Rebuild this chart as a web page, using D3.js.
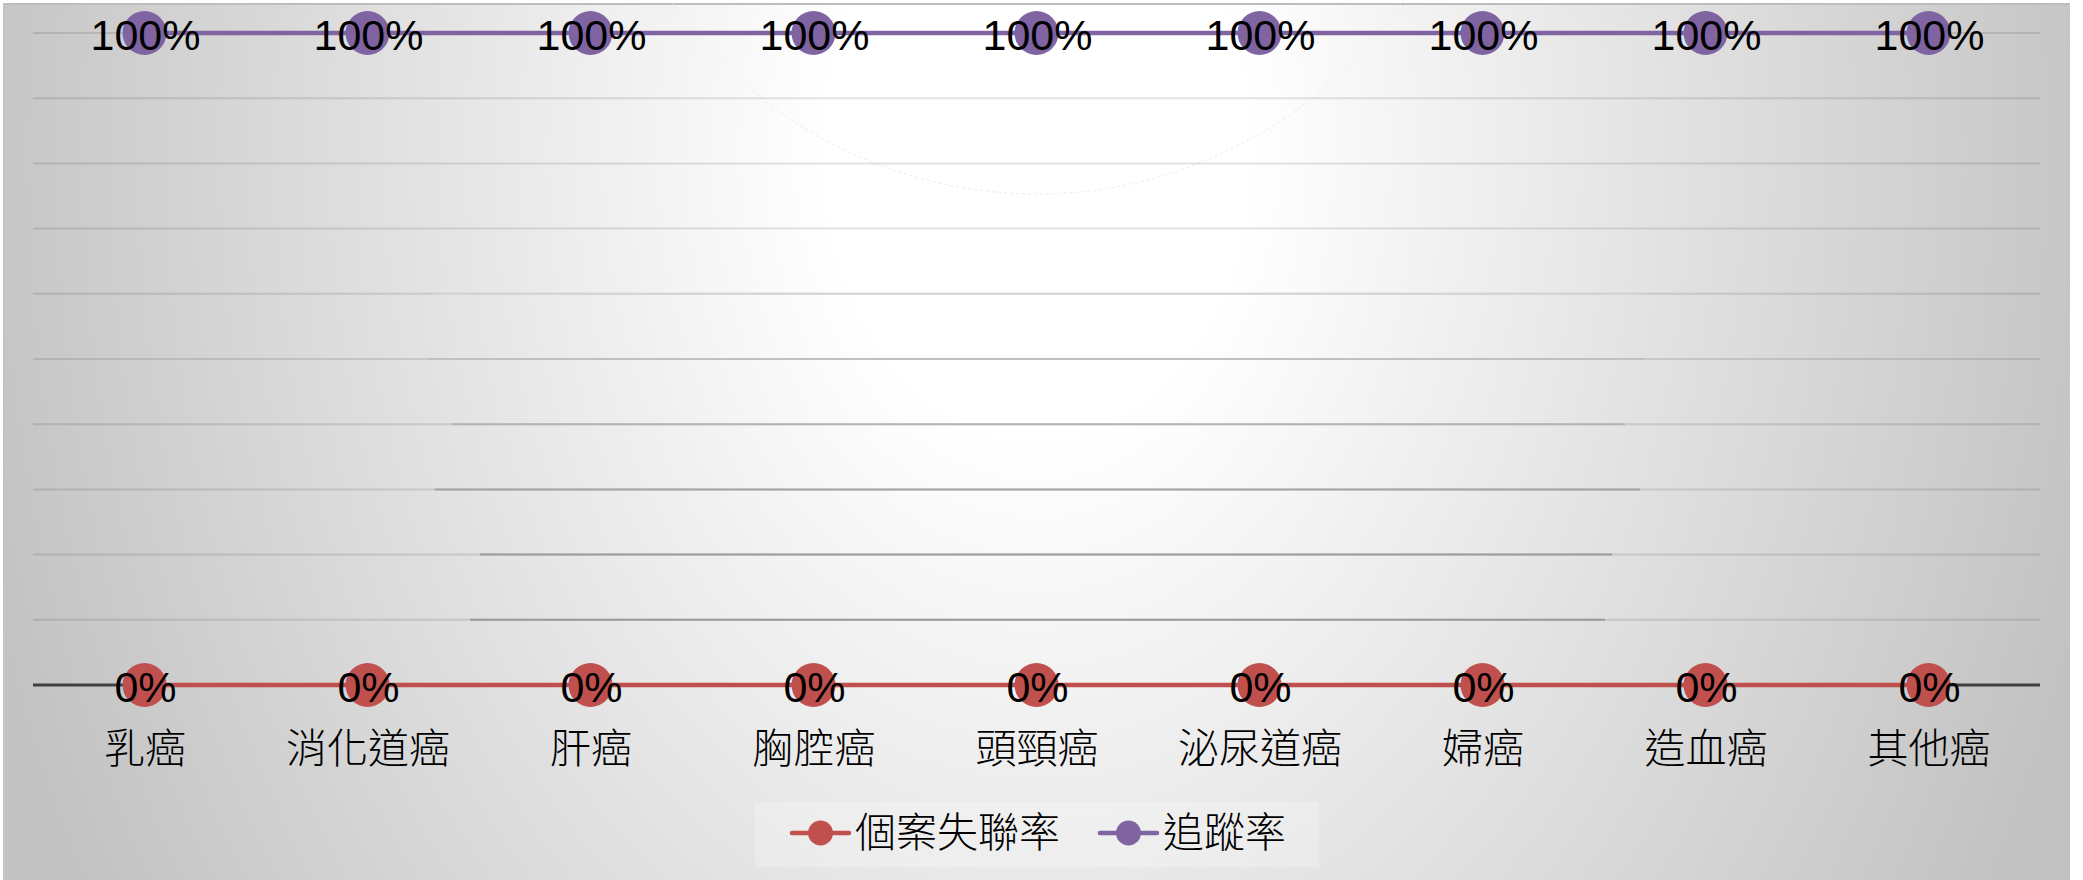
<!DOCTYPE html>
<html>
<head>
<meta charset="utf-8">
<script src="https://cdn.jsdelivr.net/npm/d3@7"></script>
<style>
  html, body { margin: 0; padding: 0; background: #ffffff; }
  svg { display: block; }
</style>
</head>
<body>
<svg id="chart" width="2083" height="880"></svg>
<script>
// ---- data ----
const categories = ["乳癌", "消化道癌", "肝癌", "胸腔癌", "頭頸癌", "泌尿道癌", "婦癌", "造血癌", "其他癌"];
const lossRate = [0, 0, 0, 0, 0, 0, 0, 0, 0];        // 個案失聯率
const trackRate = [1, 1, 1, 1, 1, 1, 1, 1, 1];       // 追蹤率
const seriesNames = ["個案失聯率", "追蹤率"];
const yTicks = [0, 0.1, 0.2, 0.3, 0.4, 0.5, 0.6, 0.7, 0.8, 0.9, 1.0];

// ---- styles ----
const colors = ["#c0504d", "#8064a2"];
const plot = { left: 33, right: 2040, top: 33, bottom: 685 };
const cjkFont = "'Noto Sans CJK TC', 'Noto Sans CJK SC', sans-serif";

const svg = d3.select("#chart");
const defs = svg.append("defs");

const gcx = 1037, gcy = 150;
const grad = defs.append("radialGradient")
  .attr("id", "bg")
  .attr("gradientUnits", "userSpaceOnUse")
  .attr("cx", gcx).attr("cy", gcy).attr("r", 1100)
  .attr("fx", gcx).attr("fy", gcy)
  .attr("gradientTransform", `translate(${gcx},${gcy}) scale(1,1.36) translate(${-gcx},${-gcy})`);
grad.append("stop").attr("offset", 0).attr("stop-color", "#ffffff");
grad.append("stop").attr("offset", 0.19).attr("stop-color", "#ffffff");
grad.append("stop").attr("offset", 1).attr("stop-color", "#c2c2c2");

// chart area background
svg.append("rect")
  .attr("x", 3).attr("y", 3).attr("width", 2067).attr("height", 880)
  .attr("fill", "url(#bg)");
svg.append("line")
  .attr("x1", 3).attr("x2", 2070).attr("y1", 4).attr("y2", 4)
  .attr("stroke", "#bdbdbd").attr("stroke-width", 2);
svg.append("line")
  .attr("x1", 4).attr("x2", 4).attr("y1", 3).attr("y2", 880)
  .attr("stroke", "#c4c4c4").attr("stroke-width", 2);

// faint arc artefact of the gradient
svg.append("circle")
  .attr("cx", 1037).attr("cy", -249).attr("r", 443)
  .attr("fill", "none").attr("stroke", "#ececec").attr("stroke-width", 1)
  .attr("stroke-dasharray", "3,3");

// ---- scales ----
const x = d3.scalePoint().domain(categories).range([plot.left, plot.right]).padding(0.5);
const y = d3.scaleLinear().domain([0, 1]).range([plot.bottom, plot.top]);

// gridlines
const gridG = svg.append("g");
gridG.selectAll("line.grid")
  .data(yTicks.filter(d => d > 0))
  .join("line")
  .attr("class", "grid")
  .attr("x1", plot.left).attr("x2", plot.right)
  .attr("y1", d => y(d)).attr("y2", d => y(d))
  .attr("stroke", "#000").attr("stroke-opacity", 0.11).attr("stroke-width", 2);

// darker rendering segments seen in the lower gridlines
const darkSeg = [
  { v: 0.1, c: "#9a9a9a", a: 470, b: 1605 },
  { v: 0.2, c: "#9c9c9c", a: 480, b: 1612 },
  { v: 0.3, c: "#a4a4a4", a: 435, b: 1640 },
  { v: 0.4, c: "#b4b4b4", a: 452, b: 1625 },
  { v: 0.5, c: "#c0c0c0", a: 428, b: 1645 },
  { v: 0.6, c: "#d4d4d4", a: 432, b: 1642 }
];
gridG.selectAll("line.dark")
  .data(darkSeg)
  .join("line")
  .attr("class", "dark")
  .attr("x1", d => d.a).attr("x2", d => d.b)
  .attr("y1", d => y(d.v)).attr("y2", d => y(d.v))
  .attr("stroke", d => d.c).attr("stroke-width", 2);

// x axis line
const xAxis = d3.axisBottom(x).tickSize(0).tickPadding(0);
const axG = svg.append("g").attr("transform", `translate(0,${y(0)})`).call(xAxis);
axG.select(".domain")
  .attr("d", `M${plot.left},0H${plot.right}`)
  .attr("stroke", "#404040").attr("stroke-width", 3);
axG.selectAll(".tick text")
  .attr("y", 64).attr("dy", "0.35em")
  .attr("font-family", cjkFont)
  .attr("font-weight", 300)
  .attr("font-size", 41)
  .attr("fill", "#000");

// ---- series ----
const series = [lossRate, trackRate];
const line = d3.line().x((d, i) => x(categories[i])).y(d => y(d));

series.forEach((vals, si) => {
  const g = svg.append("g");
  g.append("path")
    .attr("d", line(vals))
    .attr("fill", "none")
    .attr("stroke", colors[si])
    .attr("stroke-width", 4.5);
  g.selectAll("circle")
    .data(vals)
    .join("circle")
    .attr("cx", (d, i) => x(categories[i]))
    .attr("cy", d => y(d))
    .attr("r", 22)
    .attr("fill", colors[si]);
});

// data labels (drawn on top)
series.forEach((vals, si) => {
  svg.append("g").selectAll("text")
    .data(vals)
    .join("text")
    .attr("x", (d, i) => x(categories[i]) + 1)
    .attr("y", d => y(d) + 2)
    .attr("dy", "0.35em")
    .attr("text-anchor", "middle")
    .attr("font-family", "'Liberation Sans', Arial, sans-serif")
    .attr("font-size", 43)
    .attr("fill", "#000")
    .text(d => d3.format(".0%")(d));
});

// ---- legend ----
const lg = svg.append("g");
lg.append("rect")
  .attr("x", 755).attr("y", 802).attr("width", 564).attr("height", 65)
  .attr("fill", "#ffffff").attr("fill-opacity", 0.22);

const legendItems = [
  { name: seriesNames[0], color: colors[0], x0: 792, tx: 855 },
  { name: seriesNames[1], color: colors[1], x0: 1100, tx: 1163 }
];
const ly = 833;
legendItems.forEach(it => {
  lg.append("line")
    .attr("x1", it.x0).attr("x2", it.x0 + 57)
    .attr("y1", ly).attr("y2", ly)
    .attr("stroke", it.color).attr("stroke-width", 4.5)
    .attr("stroke-linecap", "round");
  lg.append("circle")
    .attr("cx", it.x0 + 28.5).attr("cy", ly).attr("r", 12.5)
    .attr("fill", it.color);
  lg.append("text")
    .attr("x", it.tx).attr("y", ly).attr("dy", "0.35em")
    .attr("font-family", cjkFont)
    .attr("font-weight", 300)
    .attr("font-size", 41)
    .attr("fill", "#000")
    .text(it.name);
});
</script>
</body>
</html>
